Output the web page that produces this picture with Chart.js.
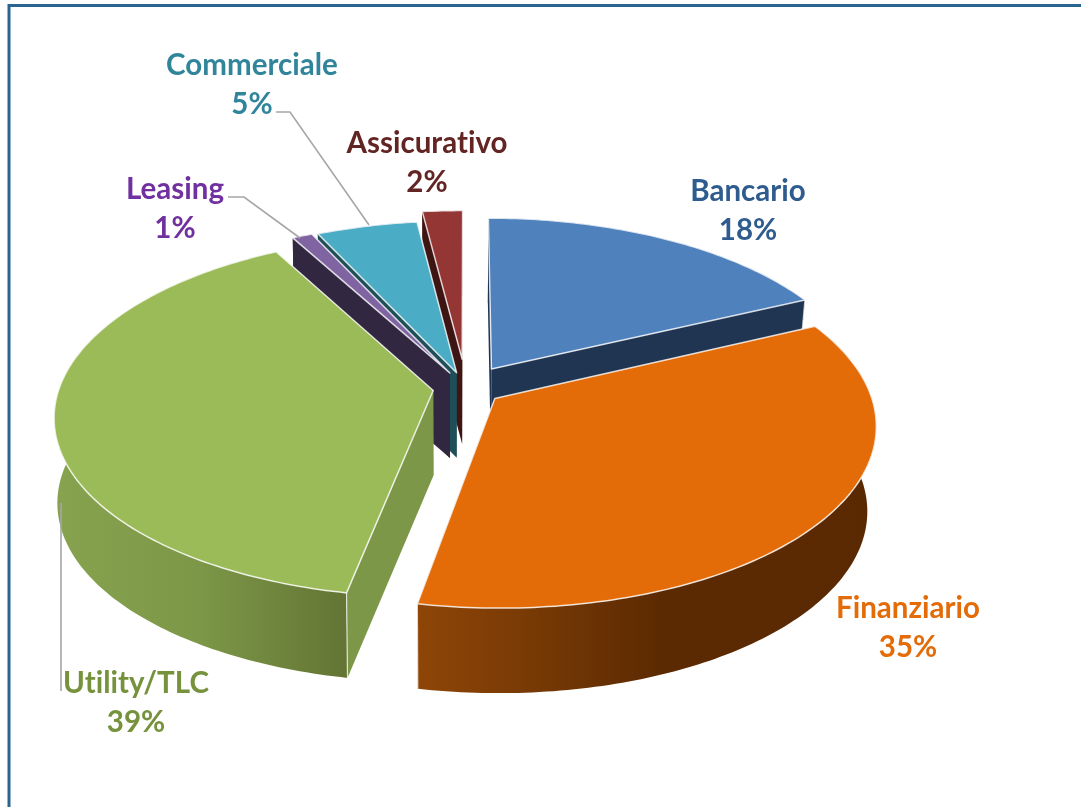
<!DOCTYPE html>
<html><head><meta charset="utf-8">
<style>html,body{margin:0;padding:0;background:#fff}canvas{display:block}</style>
<script src="https://cdn.jsdelivr.net/npm/chart.js@4/dist/chart.umd.min.js"></script>
</head><body><canvas id="c" width="1081" height="807"></canvas>
<script>
const categories = ['Bancario','Finanziario','Utility/TLC','Leasing','Commerciale','Assicurativo'];
const shares = [18,35,39,1,5,2];
const explode = [48,36,33,36,34,62];
const topColors = ['#4F81BD','#E36C09','#9BBB59','#8064A2','#4BACC6','#943634'];
const labelColors = ['#2F5C8F','#E36C09','#76923C','#7030A0','#31859B','#632523'];
const cutColors = ['#1F3552','#5C2A03','#7C9747','#322740','#1E4F58','#3E1512'];

const style = {cx:466,cy:388,rx:374,ry:177,perspX:0.14,perspY:0.14,depth:85,shrinkL:0.992,shrinkR:0.978};
const labelPos = [[748,191],[908,608],[136,683],[175,189],[252,65],[427,143]];
const LINE = 39;
const rimStops = {
  0:[[495,'#1F3552'],[812,'#1F3552']],
  1:[[418,'#8E4507'],[520,'#7A3B05'],[660,'#5C2A02'],[875,'#5A2902']],
  2:[[55,'#87A34F'],[200,'#7C9747'],[348,'#637434']],
  3:[[290,'#322740'],[450,'#322740']],
  4:[[318,'#1E4F58'],[450,'#1E4F58']],
  5:[[430,'#3E1512'],[465,'#3E1512']]
};
const drawOrder = [5,4,3,0,2,1];

function proj(u,v){
  return [style.cx+style.rx*u/(1-style.perspX*v), style.cy+style.ry*v/(1-style.perspY*v)];
}
function down(p){
  const k = p[0]<style.cx ? style.shrinkL : style.shrinkR;
  return [style.cx+(p[0]-style.cx)*k, p[1]+style.depth];
}
function sliceGeometry(arc){
  const g = arc.getProps(['startAngle','endAngle','outerRadius']);
  const mid = (g.startAngle+g.endAngle)/2;
  const o = arc.options.offset/g.outerRadius;
  const ox = Math.cos(mid)*o, oy = Math.sin(mid)*o;
  const rim = [];
  const n = Math.max(3,Math.ceil((g.endAngle-g.startAngle)*60));
  for(let i=0;i<=n;i++){
    const a = g.startAngle+(g.endAngle-g.startAngle)*i/n;
    rim.push(proj(ox+Math.cos(a),oy+Math.sin(a)));
  }
  return {apex:proj(ox,oy),rim};
}
function poly(ctx,pts){
  ctx.beginPath();
  pts.forEach((p,i)=>i?ctx.lineTo(p[0],p[1]):ctx.moveTo(p[0],p[1]));
  ctx.closePath();
}
const pie3d = {
  id:'pie3d',
  beforeDraw(chart){
    const ctx = chart.ctx;
    ctx.save();
    ctx.strokeStyle='#2A6491';ctx.lineWidth=3;
    ctx.beginPath();ctx.moveTo(9,807);ctx.lineTo(9,5.5);ctx.lineTo(1081,5.5);ctx.stroke();
    ctx.restore();
  },
  beforeDatasetsDraw(chart){
    const ctx = chart.ctx, arcs = chart.getDatasetMeta(0).data;
    ctx.save();
    ctx.lineJoin='round';
    for(const i of drawOrder){
      const {apex,rim} = sliceGeometry(arcs[i]);
      const a0=down(apex), first=rim[0], last=rim[rim.length-1];
      ctx.fillStyle=cutColors[i];
      poly(ctx,[apex,first,down(first),a0]);ctx.fill();
      poly(ctx,[apex,last,down(last),a0]);ctx.fill();
      const stops=rimStops[i];
      const x0=stops[0][0],x1=stops[stops.length-1][0];
      const gr=ctx.createLinearGradient(x0,0,x1,0);
      stops.forEach(s=>gr.addColorStop((s[0]-x0)/(x1-x0),s[1]));
      ctx.fillStyle=gr;
      poly(ctx,rim.concat(rim.slice().reverse().map(down)));ctx.fill();
      ctx.strokeStyle='rgba(255,255,255,0.75)';ctx.lineWidth=1.2;
      [first,last].forEach(p=>{
        if(p[1]>style.cy-100){ctx.beginPath();ctx.moveTo(p[0],p[1]);ctx.lineTo(...down(p));ctx.stroke();}
      });
      poly(ctx,[apex].concat(rim));
      ctx.fillStyle=topColors[i];ctx.fill();
      ctx.strokeStyle='rgba(255,255,255,0.8)';ctx.lineWidth=1.5;ctx.stroke();
    }
    ctx.restore();
    return false;
  },
  afterDraw(chart){
    const ctx=chart.ctx;
    ctx.save();
    ctx.strokeStyle='#A6A6A6';ctx.lineWidth=1.6;
    [[[276,112],[290,112],[369,225]],[[228,197],[244,197],[300,238]],[[61,503],[61,691]]].forEach(l=>{
      ctx.beginPath();l.forEach((p,i)=>i?ctx.lineTo(p[0],p[1]):ctx.moveTo(p[0],p[1]));ctx.stroke();
    });
    ctx.font='bold 29.5px Lato';ctx.textAlign='center';ctx.textBaseline='middle';
    ctx.fontVariantLigatures='none';
    ctx.letterSpacing='0.01px';
    categories.forEach((name,i)=>{
      ctx.fillStyle=labelColors[i];
      ctx.fillText(name,labelPos[i][0],labelPos[i][1]);
      ctx.fillText(shares[i]+'%',labelPos[i][0],labelPos[i][1]+LINE);
    });
    ctx.restore();
  }
};
new Chart(document.getElementById('c'),{
  type:'pie',
  data:{labels:categories,datasets:[{data:shares,offset:explode,backgroundColor:topColors,borderWidth:0}]},
  options:{responsive:false,animation:false,events:[],
    plugins:{legend:{display:false},tooltip:{enabled:false},title:{display:false}}},
  plugins:[pie3d]
});
</script></body></html>
